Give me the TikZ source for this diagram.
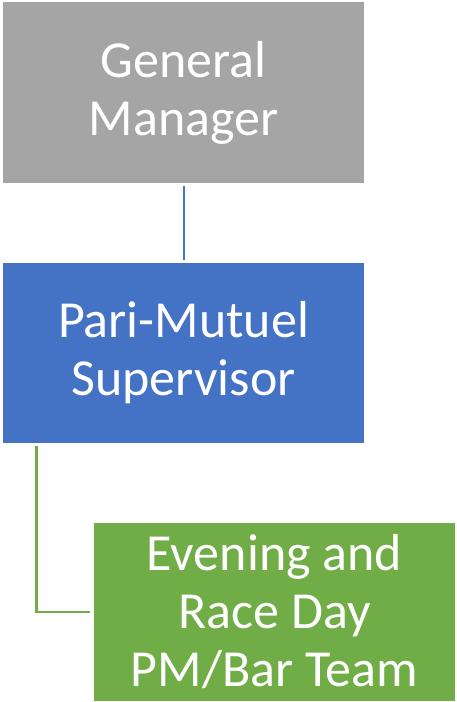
\documentclass[tikz,border=0pt]{standalone}
\usepackage{fontspec}
\setmainfont{Carlito}
\usepackage{tikz}
\definecolor{gmgray}{HTML}{A5A5A5}
\definecolor{pmblue}{HTML}{4472C4}
\definecolor{teamgreen}{HTML}{70AD47}
\tikzset{
	orgbox/.style={draw=white, line width=1.2pt, text=white, align=center, inner sep=0pt,
		font=\fontsize{52}{58}\selectfont},
}
\begin{document}
\begin{tikzpicture}[x=1pt, y=-1pt]
			%%%%% START %%%%%
			
			\useasboundingbox (0, 0) rectangle (457, 702);
			
			\node[orgbox, fill=gmgray, minimum width=363pt, minimum height=182pt] (gm) at (183.5, 92.5) {General\\Manager};
			\node[orgbox, fill=pmblue, minimum width=363pt, minimum height=181pt] (pms) at (183.5, 353) {Pari-Mutuel\\Supervisor};
			\node[orgbox, fill=teamgreen, minimum width=363pt, minimum height=180pt] (team) at (274.5, 612) {Evening and\\Race Day\\PM/Bar Team};
			
			\draw[line width=2pt, color=pmblue, shorten <=2pt, shorten >=2pt] (gm.south) -- (pms.north);
			\draw[line width=2.2pt, color=teamgreen, shorten <=2pt, shorten >=2pt] ([xshift=35pt]pms.south west) |- (team.west);
			
			%%%%% END %%%%%
\end{tikzpicture}
\end{document}
